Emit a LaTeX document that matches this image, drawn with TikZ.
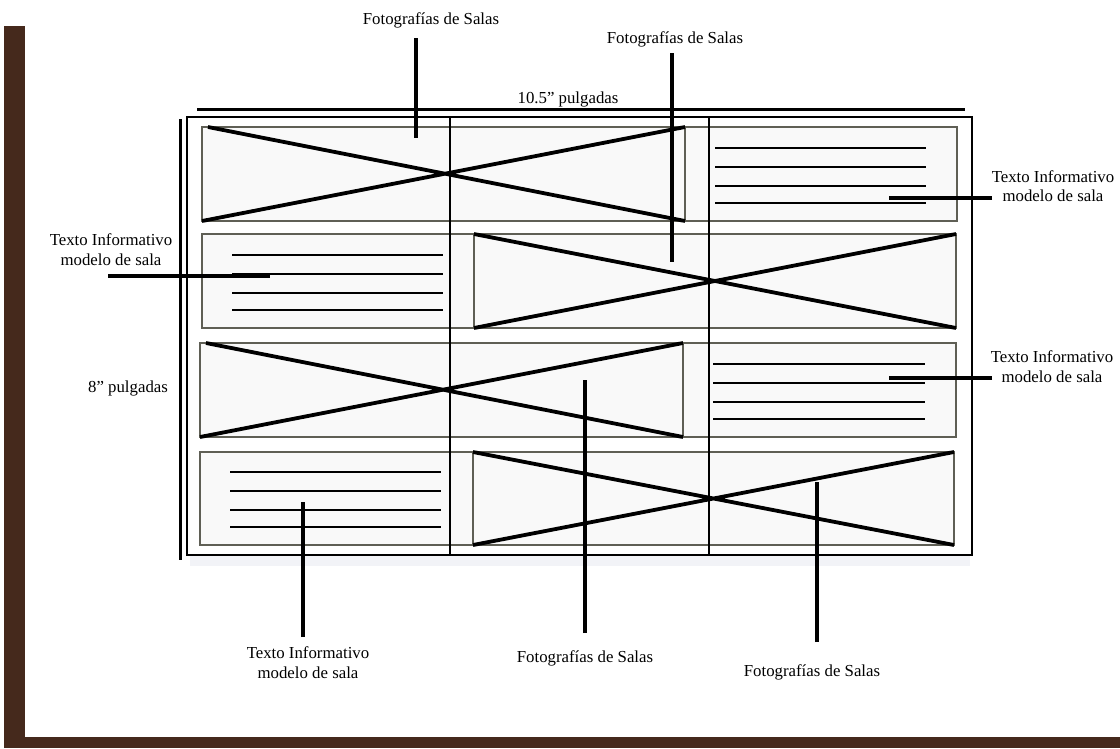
\documentclass[tikz,border=0pt]{standalone}
\usepackage{fontspec}
\setmainfont{Liberation Serif}
\definecolor{brownband}{HTML}{45291C}
\definecolor{boxgray}{HTML}{5F5F55}
\definecolor{boxfill}{HTML}{F9F9F9}
\definecolor{shadowc}{HTML}{F2F3F7}
\begin{document}
\begin{tikzpicture}[x=1pt,y=-1pt,
  frameline/.style={draw=black,line width=1.5pt},
  pbox/.style={draw=boxgray,fill=boxfill,line width=1.7pt},
  xline/.style={line width=3.8pt},
  tline/.style={line width=2.3pt},
  leader/.style={line width=3.6pt},
  dimline/.style={line width=3pt},
  lbl/.style={font=\fontsize{16.8}{19.5}\selectfont,inner sep=0pt,anchor=base}]
\useasboundingbox (0,0) rectangle (1120,748);
\fill[white] (0,0) rectangle (1120,748);
% brown border
\fill[brownband] (4,26) rectangle (25,748);
\fill[brownband] (4,737) rectangle (1120,748);
% faint shadow under frame
\fill[shadowc] (190,556) rectangle (970,566);
% outer frame
\draw[frameline] (187,117) rectangle (972,555);
% text boxes
\draw[pbox] (685,127) rectangle (957,221);
\draw[pbox] (202,234) rectangle (474,328);
\draw[pbox] (683,343) rectangle (956,437);
\draw[pbox] (200,452) rectangle (473,545);
% photo boxes
\draw[pbox] (202,127) rectangle (685,221);
\draw[pbox] (474,234) rectangle (956,328);
\draw[pbox] (200,343) rectangle (683,437);
\draw[pbox] (473,452) rectangle (954,545);
% crosses
\draw[xline] (208,127) -- (685,221) (202,221) -- (685,127);
\draw[xline] (474,234) -- (956,328) (474,328) -- (956,234);
\draw[xline] (206,343) -- (683,437) (200,437) -- (683,343);
\draw[xline] (473,452) -- (954,545) (473,545) -- (954,452);
% text lines
\foreach \y in {148,167,186,203} \draw[tline] (715,\y) -- (926,\y);
\foreach \y in {255,274,293,310} \draw[tline] (232,\y) -- (443,\y);
\foreach \y in {364,383,402,419} \draw[tline] (713,\y) -- (925,\y);
\foreach \y in {472,491,510,527} \draw[tline] (230,\y) -- (441,\y);
% column dividers
\draw[line width=1.5pt] (450,117) -- (450,555);
\draw[line width=1.5pt] (709,117) -- (709,555);
% dimension lines
\coordinate (w1) at (197,109); \coordinate (w2) at (965,109);
\coordinate (h1) at (180,119); \coordinate (h2) at (180,560);
\draw[dimline] (w1) -- (w2);
\draw[dimline] (h1) -- (h2);
\node[lbl] (dimw) at (568,103) {10.5” pulgadas};
\node[lbl] (dimh) at (128,392) {8” pulgadas};
% labels
\node[lbl] (f1) at (431,24) {Fotografías de Salas};
\node[lbl] (f2) at (675,43) {Fotografías de Salas};
\node[lbl] (t1a) at (1053,182) {Texto Informativo};
\node[lbl] (t1b) at (1053,201) {modelo de sala};
\node[lbl] (t2a) at (111,245) {Texto Informativo};
\node[lbl] (t2b) at (111,265) {modelo de sala};
\node[lbl] (t3a) at (1052,362) {Texto Informativo};
\node[lbl] (t3b) at (1052,382) {modelo de sala};
\node[lbl] (t4a) at (308,658) {Texto Informativo};
\node[lbl] (t4b) at (308,678) {modelo de sala};
\node[lbl] (f3) at (585,662) {Fotografías de Salas};
\node[lbl] (f4) at (812,676) {Fotografías de Salas};
% leaders
\coordinate (l1a) at (416,38);  \coordinate (l1b) at (416,138);
\coordinate (l2a) at (672,53);  \coordinate (l2b) at (672,262);
\coordinate (l3a) at (992,198); \coordinate (l3b) at (889,198);
\coordinate (l4a) at (108,276); \coordinate (l4b) at (270,276);
\coordinate (l5a) at (992,378); \coordinate (l5b) at (889,378);
\coordinate (l6a) at (303,637); \coordinate (l6b) at (303,502);
\coordinate (l7a) at (585,633); \coordinate (l7b) at (585,380);
\coordinate (l8a) at (817,642); \coordinate (l8b) at (817,482);
\foreach \i in {1,...,8} \draw[leader] (l\i a) -- (l\i b);
\end{tikzpicture}
\end{document}
